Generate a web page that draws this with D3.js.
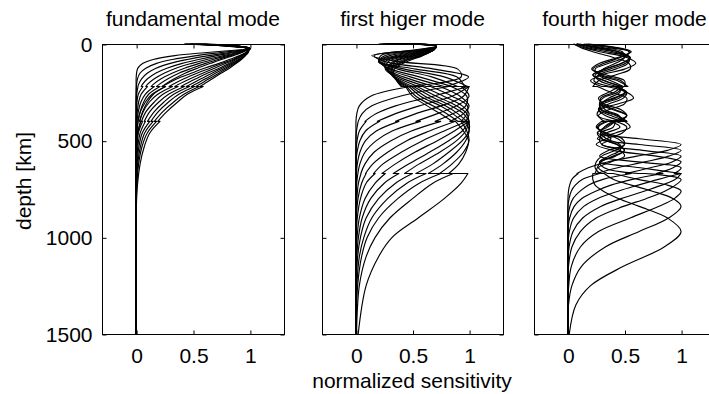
<!DOCTYPE html>
<html>
<head>
<script src="https://d3js.org/d3.v7.min.js"></script>
<style>
  body { margin: 0; background: #fff; }
  svg text { font-family: "Liberation Sans", Arial, Helvetica, sans-serif; font-size: 21px; fill: #000; }
</style>
</head>
<body>
<div id="chart"></div>
<script>
// depth samples (km); a repeated depth marks a jump at a discontinuity
let depthFund = [0, 8, 20, 25, 30, 45, 60, 80, 100, 125, 150, 180, 210, 220, 220, 260, 300, 350, 400, 400, 460, 530, 620, 750, 900, 1500];
let fundamental = [
  [.42,.72,.97,1,.92,.60,.34,.15,.06,.015,.004,0,0,0,0,0,0,0,0,0,0,0,0,0,0,0],
  [.43,.73,.97,1,.95,.73,.53,.32,.18,.085,.035,.012,.004,.003,.003,0,0,0,0,0,0,0,0,0,0,0],
  [.44,.74,.97,1,.97,.81,.64,.45,.30,.175,.10,.048,.021,.016,.016,.005,0,0,0,0,0,0,0,0,0,0],
  [.46,.75,.97,1,.97,.85,.71,.55,.405,.27,.175,.10,.054,.045,.06,.019,.008,.003,0,0,0,0,0,0,0,0],
  [.47,.76,.97,1,.975,.88,.77,.62,.49,.35,.25,.16,.097,.085,.10,.044,.022,.01,.004,.004,0,0,0,0,0,0],
  [.48,.77,.98,1,.98,.90,.805,.675,.555,.425,.32,.22,.148,.132,.16,.08,.042,.019,.008,.008,.003,0,0,0,0,0],
  [.49,.77,.98,1,.98,.915,.83,.72,.61,.49,.38,.28,.20,.18,.21,.11,.067,.035,.017,.017,.007,.003,0,0,0,0],
  [.50,.78,.98,1,.98,.925,.855,.75,.655,.54,.435,.335,.25,.228,.258,.152,.10,.057,.031,.041,.015,.006,0,0,0,0],
  [.52,.79,.98,1,.99,.96,.91,.82,.73,.60,.49,.36,.26,.23,.26,.14,.082,.038,.016,.016,.005,.002,0,0,0,0],
  [.53,.80,.99,1,.99,.965,.92,.85,.76,.65,.54,.42,.32,.29,.32,.19,.117,.062,.03,.04,.012,.004,.001,0,0,0],
  [.54,.81,.99,1,.99,.97,.935,.865,.79,.69,.59,.475,.37,.34,.37,.235,.16,.087,.047,.057,.02,.008,.002,0,0,0],
  [.55,.82,.99,1,.99,.975,.94,.88,.82,.73,.63,.525,.425,.395,.425,.285,.20,.12,.072,.082,.036,.015,.005,0,0,0],
  [.56,.83,.99,1,.99,.98,.95,.90,.84,.755,.67,.57,.475,.44,.47,.33,.245,.16,.10,.12,.054,.025,.009,.002,0,0],
  [.58,.84,.99,1,.99,.98,.955,.91,.855,.78,.70,.61,.515,.485,.515,.375,.285,.195,.13,.15,.075,.038,.014,.003,0,0],
  [.59,.84,.99,1,.99,.98,.96,.92,.87,.80,.73,.64,.555,.525,.555,.42,.33,.235,.16,.18,.098,.052,.022,.005,0,0],
  [.60,.85,.99,1,.995,.985,.96,.925,.88,.82,.75,.67,.59,.56,.59,.45,.365,.27,.19,.21,.12,.072,.035,.009,0,0]
];

let depthFirst = [0, 12, 30, 60, 90, 130, 170, 220, 220, 270, 320, 360, 400, 400, 450, 500, 560, 620, 670, 670, 720, 800, 900, 1000, 1100, 1250, 1500];
let firstHigher = [
  [.50,.71,.53,.14,.355,.90,.93,.455,.485,.13,.03,.008,0,0,0,0,0,0,0,0,0,0,0,0,0,0,0],
  [.48,.71,.56,.16,.25,.69,.995,.79,.82,.39,.14,.055,.02,.02,.005,0,0,0,0,0,0,0,0,0,0,0,0],
  [.46,.71,.60,.22,.21,.53,.89,.96,.99,.68,.35,.18,.08,.09,.03,.01,0,0,0,0,0,0,0,0,0,0,0],
  [.44,.71,.61,.26,.20,.43,.78,.99,1,.85,.56,.35,.19,.21,.085,.035,.01,0,0,0,0,0,0,0,0,0,0],
  [.42,.71,.63,.30,.20,.37,.67,.90,1,.95,.75,.53,.35,.38,.18,.085,.035,.012,.005,.005,0,0,0,0,0,0,0],
  [.40,.71,.64,.35,.20,.31,.56,.85,.93,1,.89,.72,.53,.57,.32,.18,.08,.035,.017,.017,.007,0,0,0,0,0,0],
  [.38,.71,.65,.39,.22,.29,.48,.78,.84,.98,.97,.86,.70,.75,.49,.31,.16,.08,.043,.045,.022,.008,0,0,0,0,0],
  [.36,.71,.66,.42,.24,.27,.42,.69,.74,.92,1,.95,.83,.88,.65,.45,.28,.15,.085,.09,.05,.018,.004,0,0,0,0],
  [.34,.71,.665,.45,.26,.27,.38,.62,.66,.85,.985,.98,.93,.98,.78,.59,.40,.24,.155,.17,.09,.04,.012,.003,0,0,0],
  [.32,.71,.67,.48,.29,.26,.35,.55,.59,.775,.94,1,.97,1,.87,.72,.52,.35,.23,.26,.17,.08,.03,.01,0,0,0],
  [.30,.71,.68,.51,.33,.28,.34,.50,.54,.71,.89,.98,1,1,.94,.82,.65,.47,.33,.38,.25,.13,.055,.022,.008,0,0],
  [.28,.71,.68,.525,.35,.28,.335,.47,.51,.66,.84,.95,1,1,.97,.89,.74,.56,.43,.50,.35,.20,.09,.04,.015,.003,0],
  [.26,.71,.685,.55,.38,.29,.33,.45,.49,.61,.79,.90,.98,1,1,.94,.82,.68,.53,.62,.45,.28,.14,.07,.03,.008,0],
  [.24,.71,.69,.57,.41,.31,.335,.43,.47,.57,.745,.855,.945,.97,1,.97,.89,.77,.64,.75,.56,.37,.20,.10,.05,.015,0],
  [.22,.71,.69,.58,.43,.32,.34,.41,.45,.53,.68,.80,.90,.93,.98,1,.95,.85,.74,.86,.68,.50,.30,.17,.09,.03,.005],
  [.20,.71,.69,.59,.455,.34,.34,.40,.44,.50,.63,.745,.85,.88,.95,.995,.97,.91,.82,.99,.93,.78,.55,.32,.20,.09,.02]
];

let depthFourth = [0, 20, 40, 70, 100, 130, 160, 190, 220, 220, 250, 280, 310, 340, 370, 400, 400, 430, 460, 490, 520, 550, 580, 610, 640, 670, 670, 700, 730, 760, 800, 840, 900, 970, 1050, 1150, 1250, 1350, 1500];
let fourthHigher = [
  [.08,.28,.45,.55,.47,.32,.22,.33,.48,.44,.50,.40,.28,.30,.44,.52,.42,.33,.26,.63,1.0,.88,.61,.35,.18,.08,.09,.035,.015,.005,0,0,0,0,0,0,0,0,0],
  [.07,.18,.34,.54,.53,.42,.27,.23,.38,.42,.52,.49,.36,.27,.33,.48,.38,.46,.34,.26,.63,1.0,.89,.68,.44,.25,.28,.13,.065,.03,.01,0,0,0,0,0,0,0,0],
  [.14,.38,.54,.50,.36,.24,.28,.44,.53,.49,.44,.31,.28,.40,.52,.46,.36,.27,.30,.38,.30,.66,1.0,.92,.73,.51,.56,.31,.18,.11,.045,.017,0,0,0,0,0,0,0],
  [.05,.12,.22,.40,.54,.55,.42,.27,.22,.26,.38,.52,.50,.36,.27,.32,.42,.52,.48,.34,.25,.40,.78,1.0,.93,.78,.84,.57,.38,.25,.12,.055,.015,0,0,0,0,0,0],
  [.18,.45,.56,.44,.28,.21,.34,.50,.50,.46,.36,.27,.32,.47,.52,.40,.30,.25,.34,.48,.50,.36,.28,.62,1.0,.94,1.0,.80,.62,.45,.26,.14,.05,.012,0,0,0,0,0],
  [.08,.22,.40,.55,.51,.37,.24,.28,.44,.40,.52,.45,.31,.27,.38,.52,.42,.40,.29,.30,.44,.50,.42,.28,.64,1.0,1.0,.95,.83,.68,.47,.29,.13,.045,.01,0,0,0,0],
  [.10,.32,.48,.50,.42,.31,.27,.38,.49,.45,.46,.36,.30,.33,.45,.48,.40,.32,.29,.34,.46,.46,.36,.28,.32,.62,.68,1.0,.95,.86,.69,.49,.25,.11,.035,.005,0,0,0],
  [.05,.15,.28,.52,.60,.50,.30,.20,.30,.34,.52,.58,.44,.28,.26,.42,.50,.55,.42,.28,.30,.46,.50,.38,.27,.35,.40,.62,.88,1.0,.94,.80,.55,.27,.11,.03,.007,0,0],
  [.16,.42,.55,.46,.32,.22,.30,.47,.52,.48,.41,.29,.30,.42,.52,.44,.34,.26,.32,.44,.50,.42,.30,.25,.24,.28,.32,.40,.56,.74,.93,1.0,.89,.63,.33,.12,.035,.005,0],
  [.08,.26,.44,.55,.48,.33,.22,.32,.47,.43,.51,.42,.29,.29,.42,.52,.42,.35,.26,.30,.43,.50,.40,.29,.26,.24,.22,.22,.24,.31,.45,.63,.88,1.0,.85,.49,.20,.07,.012]
];

let titles = ["fundamental mode", "first higer mode", "fourth higer mode"];
let xTicks = [0, 0.5, 1];
let yTicks = [0, 500, 1000, 1500];

let width = 709;
let height = 394;
let plotTop = 44, plotBottom = 334;

let svg = d3.select("#chart").append("svg")
    .attr("width", width)
    .attr("height", height);

let y = d3.scaleLinear().domain([0, 1500]).range([plotTop, plotBottom]);

let panels = [
    {left: 102, right: 284, depth: depthFund, curves: fundamental},
    {left: 322, right: 503, depth: depthFirst, curves: firstHigher},
    {left: 534, right: 715, depth: depthFourth, curves: fourthHigher}
];

let line = d3.line().curve(d3.curveCatmullRom.alpha(0.5));

// one path per curve; pieces between repeated depths are joined by straight jumps
function curvePath(x, depth, values) {
    let runs = [[]];
    depth.forEach((d, i) => {
        if (i > 0 && depth[i - 1] === d) runs.push([]);
        runs[runs.length - 1].push([x(values[i]), y(d)]);
    });
    return runs.map((r, i) => {
        let s = line(r).replace(/Z$/, "");
        return i ? "L" + s.slice(1) : s;
    }).join("");
}

panels.forEach((p, pi) => {
    let x = d3.scaleLinear().domain([-0.3, 1.3]).range([p.left, p.right]);
    let g = svg.append("g");

    g.append("g")
        .selectAll("path")
        .data(p.curves)
        .join("path")
        .attr("fill", "none")
        .attr("stroke", "#000")
        .attr("stroke-width", 1.15)
        .attr("stroke-linejoin", "round")
        .attr("d", d => curvePath(x, p.depth, d));

    // box
    g.append("rect")
        .attr("x", p.left + 0.5)
        .attr("y", plotTop + 0.5)
        .attr("width", p.right - p.left)
        .attr("height", plotBottom - plotTop)
        .attr("fill", "none")
        .attr("stroke", "#000")
        .attr("stroke-width", 1);

    g.append("g")
        .attr("transform", `translate(0.5,${plotBottom + 0.5})`)
        .call(d3.axisBottom(x).tickValues(xTicks).tickSize(-4).tickSizeOuter(0).tickPadding(14).tickFormat(d3.format("")))
        .call(a => a.select(".domain").remove());

    g.append("g")
        .attr("transform", `translate(0.5,${plotTop + 0.5})`)
        .call(d3.axisTop(x).tickValues(xTicks).tickSize(-4).tickSizeOuter(0).tickFormat(""))
        .call(a => a.select(".domain").remove());

    g.append("g")
        .attr("transform", `translate(${p.left + 0.5},0.5)`)
        .call(d3.axisLeft(y).tickValues(yTicks).tickSize(-4).tickSizeOuter(0).tickPadding(10)
            .tickFormat(pi === 0 ? d3.format("") : ""))
        .call(a => a.select(".domain").remove());

    g.append("g")
        .attr("transform", `translate(${p.right + 0.5},0.5)`)
        .call(d3.axisRight(y).tickValues(yTicks).tickSize(-4).tickSizeOuter(0).tickFormat(""))
        .call(a => a.select(".domain").remove());

    g.selectAll("text").attr("font-size", 21).attr("font-family", null);

    svg.append("text")
        .attr("x", (p.left + p.right) / 2)
        .attr("y", 26)
        .attr("text-anchor", "middle")
        .text(titles[pi]);
});

svg.append("text")
    .attr("x", 412)
    .attr("y", 388)
    .attr("text-anchor", "middle")
    .text("normalized sensitivity");

svg.append("text")
    .attr("transform", "translate(31,181) rotate(-90)")
    .attr("text-anchor", "middle")
    .text("depth [km]");
</script>
</body>
</html>
